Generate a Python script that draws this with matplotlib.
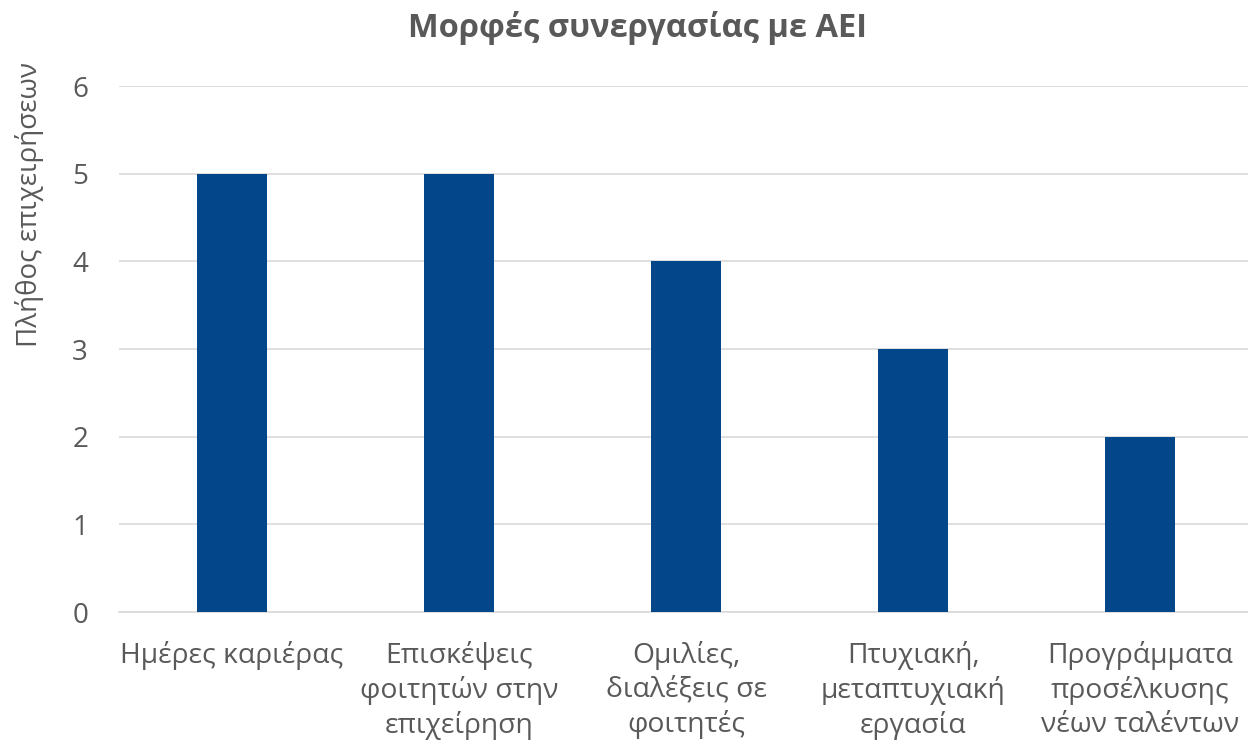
import matplotlib.pyplot as plt
import numpy as np

plt.rcParams['font.family'] = ['Open Sans', 'DejaVu Sans']

# categories and values
categorias = ["Ημέρες καριέρας", "Επισκέψεις\nφοιτητών στην\nεπιχείρηση",
              "Ομιλίες,\nδιαλέξεις σε\nφοιτητές", "Πτυχιακή,\nμεταπτυχιακή\nεργασία",
              "Προγράμματα\nπροσέλκυσης\nνέων ταλέντων"]
valores = [5, 5, 4, 3, 2]
yticks = [0, 1, 2, 3, 4, 5, 6]

gris = "#595959"
azul = "#03478A"

fig = plt.figure(figsize=(12.48, 7.45), dpi=100)
ax = fig.add_axes([0.095, 0.1785, 0.9095, 0.706])

x = np.arange(len(categorias))
ax.bar(x, valores, width=0.31, color=azul, zorder=3)

ax.set_xlim(-0.5, len(categorias) - 0.5)
ax.set_ylim(0, 6)
ax.set_yticks(yticks)
ax.set_xticks(x)
ax.set_xticklabels(categorias, fontsize=20.3, color=gris, linespacing=1.27, va="top")
ax.tick_params(axis="y", labelsize=20, colors=gris, length=0, pad=22)
ax.tick_params(axis="x", length=0, pad=21)
ax.grid(axis="y", color="#D9D9D9", linewidth=1.2, zorder=0)
for s in ["top", "right", "left"]:
    ax.spines[s].set_visible(False)
ax.spines["bottom"].set_color("#D9D9D9")
ax.spines["bottom"].set_linewidth(1.2)

fig.text(0.024, 0.726, "Πλήθος επιχειρήσεων", rotation=90, fontsize=20,
         color=gris, ha="center", va="center")
fig.text(0.511, 0.962, "Μορφές συνεργασίας με ΑΕΙ", fontsize=23.5, fontweight="bold",
         color=gris, ha="center", va="center")

fig.savefig("out.png", dpi=100)
